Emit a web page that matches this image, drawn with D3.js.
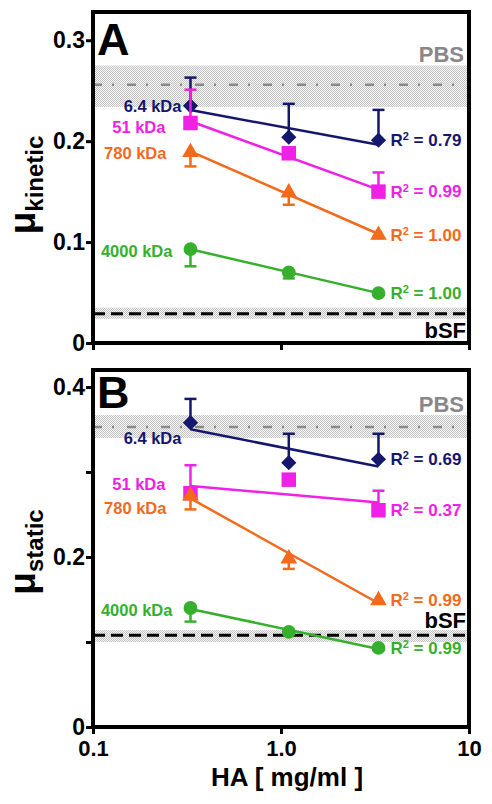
<!DOCTYPE html>
<html><head><meta charset="utf-8">
<script src="https://cdn.jsdelivr.net/npm/d3@7"></script>
<style>
html,body{margin:0;padding:0;background:#fff;}
svg text{font-family:"Liberation Sans",Arial,Helvetica,sans-serif;font-weight:bold;}
</style></head>
<body><svg id="c" width="492" height="804"></svg>
<script>
// ---------- data ----------
const concentrations = [0.33, 1.1, 3.3];           // HA mg/ml
const seriesNames = ["6.4 kDa", "51 kDa", "780 kDa", "4000 kDa"];
const seriesColors = ["#15176f", "#f021e6", "#f26a1c", "#36b02c"];
const seriesSymbols = ["diamond", "square", "triangle", "circle"];
const errorDirection = [1, 1, -1, -1];            // +1 bar above, -1 bar below

const kineticValues = [
  [0.235, 0.204, 0.201],
  [0.218, 0.188, 0.150],
  [0.189, 0.149, 0.107],
  [0.093, 0.070, 0.0495]
];
const kineticErrors = [
  [0.028, 0.033, 0.030],
  [0.033, 0.004, 0.019],
  [0.014, 0.012, 0.003],
  [0.017, 0.006, 0.002]
];
const kineticR2 = ["0.79", "0.99", "1.00", "1.00"];

const staticValues = [
  [0.358, 0.311, 0.315],
  [0.275, 0.291, 0.255],
  [0.272, 0.198, 0.149],
  [0.140, 0.112, 0.093]
];
const staticErrors = [
  [0.028, 0.034, 0.030],
  [0.033, 0.003, 0.023],
  [0.016, 0.012, 0.003],
  [0.016, 0.003, 0.002]
];
const staticR2 = ["0.69", "0.37", "0.99", "0.99"];

// reference bands: [low, mean, high]
const pbsKinetic = [0.234, 0.256, 0.275];
const bsfKinetic = [0.024, 0.029, 0.035];
const pbsStatic = [0.340, 0.353, 0.367];
const bsfStatic = [0.100, 0.108, 0.114];

const kineticTicks = [0, 0.1, 0.2, 0.3];
const kineticTickLabels = ["0", "0.1", "0.2", "0.3"];
const staticTicks = [0, 0.1, 0.2, 0.3, 0.4];
const staticTickLabels = ["0", "", "0.2", "", "0.4"];
const xTicks = [0.1, 1, 10];
const xTickLabels = ["0.1", "1.0", "10"];

// ---------- layout ----------
const svg = d3.select("#c");
const x = d3.scaleLog().domain([0.1, 10]).range([93, 469]);

const defs = svg.append("defs");
const pat = defs.append("pattern").attr("id", "stip").attr("width", 2).attr("height", 2)
  .attr("patternUnits", "userSpaceOnUse");
pat.append("rect").attr("width", 2).attr("height", 2).attr("fill", "#f6f6f6");
pat.append("rect").attr("width", 1).attr("height", 1).attr("fill", "#c4c4c4");
pat.append("rect").attr("x", 1).attr("y", 1).attr("width", 1).attr("height", 1).attr("fill", "#c4c4c4");

const panels = [
  { top: 12, bottom: 343, ymax: 0.328, values: kineticValues, errors: kineticErrors, r2: kineticR2,
    pbs: pbsKinetic, bsf: bsfKinetic, ticks: kineticTicks, tickLabels: kineticTickLabels,
    letter: "A", letterY: 55, sub: "kinetic", titleY: 185, xLabels: false,
    labelDy: [0, 4, 1, 2], bsfLabelBelow: true },
  { top: 370, bottom: 727, ymax: 0.42, values: staticValues, errors: staticErrors, r2: staticR2,
    pbs: pbsStatic, bsf: bsfStatic, ticks: staticTicks, tickLabels: staticTickLabels,
    letter: "B", letterY: 408, sub: "static", titleY: 552, xLabels: true,
    labelDy: [16, -9, 12, 2], bsfLabelBelow: false }
];
const labelEndOffset = [-9, -25, -24, -18];

function symbolPath(kind) {
  if (kind === "diamond") return d3.symbol().type(d3.symbolSquare).size(115)();
  if (kind === "square") return d3.symbol().type(d3.symbolSquare).size(210)();
  if (kind === "triangle") return d3.symbol().type(d3.symbolTriangle).size(120)();
  return d3.symbol().type(d3.symbolCircle).size(150)();
}

function fit(xs, ys) {
  const lx = xs.map(v => Math.log10(v));
  const mx = d3.mean(lx), my = d3.mean(ys);
  let sxy = 0, sxx = 0;
  lx.forEach((v, i) => { sxy += (v - mx) * (ys[i] - my); sxx += (v - mx) * (v - mx); });
  const b = sxy / sxx;
  return v => my + b * (Math.log10(v) - mx);
}

panels.forEach(p => {
  const y = d3.scaleLinear().domain([0, p.ymax]).range([p.bottom, p.top]);
  const g = svg.append("g");

  // bands
  [p.pbs, p.bsf].forEach(b => {
    g.append("rect").attr("x", x(0.1)).attr("width", x(10) - x(0.1))
      .attr("y", y(b[2])).attr("height", y(b[0]) - y(b[2])).attr("fill", "url(#stip)");
  });
  g.append("line").attr("x1", x(0.1)).attr("x2", x(10)).attr("y1", y(p.pbs[1])).attr("y2", y(p.pbs[1]))
    .attr("stroke", "#8a8a8a").attr("stroke-width", 2.5).attr("stroke-dasharray", "9,10,2,13");
  g.append("line").attr("x1", x(0.1)).attr("x2", x(10)).attr("y1", y(p.bsf[1])).attr("y2", y(p.bsf[1]))
    .attr("stroke", "#000").attr("stroke-width", 3).attr("stroke-dasharray", "12,6");
  g.append("text").attr("x", 464).attr("y", y(p.pbs[2]) - 3).attr("text-anchor", "end")
    .attr("font-size", 22).attr("fill", "#888").text("PBS");
  g.append("text").attr("x", 466)
    .attr("y", p.bsfLabelBelow ? y(p.bsf[0]) + 19 : y(p.bsf[2]) - 2)
    .attr("text-anchor", "end").attr("font-size", 22).attr("fill", "#000").text("bSF");

  // series
  p.values.forEach((vals, s) => {
    const col = seriesColors[s];
    const f = fit(concentrations, vals);
    g.append("line").attr("x1", x(concentrations[0])).attr("x2", x(concentrations[2]))
      .attr("y1", y(f(concentrations[0]))).attr("y2", y(f(concentrations[2])))
      .attr("stroke", col).attr("stroke-width", 2.5);
    vals.forEach((v, i) => {
      const cx = x(concentrations[i]);
      const e = p.errors[s][i] * errorDirection[s];
      g.append("line").attr("x1", cx).attr("x2", cx).attr("y1", y(v)).attr("y2", y(v + e))
        .attr("stroke", col).attr("stroke-width", 2.5);
      g.append("line").attr("x1", cx - 6).attr("x2", cx + 6).attr("y1", y(v + e)).attr("y2", y(v + e))
        .attr("stroke", col).attr("stroke-width", 2.5);
      g.append("path").attr("d", symbolPath(seriesSymbols[s]))
        .attr("transform", `translate(${cx},${y(v)})` + (seriesSymbols[s] === "diamond" ? " rotate(45)" : ""))
        .attr("fill", col);
    });
    // series label
    g.append("text").attr("x", x(concentrations[0]) + labelEndOffset[s])
      .attr("y", y(vals[0]) + p.labelDy[s]).attr("dy", "0.35em")
      .attr("text-anchor", "end").attr("font-size", 16.5).attr("fill", col).text(seriesNames[s]);
    // R2 label
    const rt = g.append("text").attr("x", x(concentrations[2]) + 12)
      .attr("y", y(vals[2])).attr("dy", "0.35em")
      .attr("font-size", 17).attr("fill", col);
    rt.append("tspan").text("R");
    rt.append("tspan").attr("font-size", 11).attr("dy", "-0.55em").text("2");
    rt.append("tspan").attr("dy", "0.35em").text(" = " + p.r2[s]);
  });

  // axes
  const ya = d3.axisLeft(y).tickValues(p.ticks).tickFormat((d, i) => p.tickLabels[i])
    .tickSize(7).tickPadding(1);
  const yg = g.append("g").attr("transform", `translate(${x(0.1)},0)`).call(ya);
  yg.select(".domain").remove();
  yg.selectAll("line").attr("stroke", "#000").attr("stroke-width", 3);
  yg.selectAll("text").attr("font-size", 23).attr("fill", "#000")
    .style("font-family", '"Liberation Sans",Arial,sans-serif').style("font-weight", "bold");

  const xa = d3.axisBottom(x).tickValues(xTicks)
    .tickFormat((d, i) => p.xLabels ? xTickLabels[i] : "").tickSize(7).tickPadding(6);
  const xg = g.append("g").attr("transform", `translate(0,${p.bottom})`).call(xa);
  xg.select(".domain").remove();
  xg.selectAll("line").attr("stroke", "#000").attr("stroke-width", 3);
  xg.selectAll("text").attr("font-size", 22).attr("fill", "#000")
    .style("font-family", '"Liberation Sans",Arial,sans-serif').style("font-weight", "bold");

  // frame
  g.append("rect").attr("x", x(0.1)).attr("y", p.top).attr("width", x(10) - x(0.1))
    .attr("height", p.bottom - p.top).attr("fill", "none").attr("stroke", "#000").attr("stroke-width", 4);

  // panel letter
  g.append("text").attr("x", 97).attr("y", p.letterY).attr("font-size", 45).attr("fill", "#000").text(p.letter);

  // y title
  const t = g.append("text").attr("transform", `translate(35,${p.titleY}) rotate(-90)`)
    .attr("text-anchor", "middle").attr("fill", "#000");
  t.append("tspan").attr("font-size", 37).text("μ");
  t.append("tspan").attr("font-size", 24).attr("dy", 8).text(p.sub);
});

svg.append("text").attr("x", 287).attr("y", 786).attr("text-anchor", "middle")
  .attr("font-size", 26).attr("fill", "#000").text("HA [ mg/ml ]");
</script></body></html>
